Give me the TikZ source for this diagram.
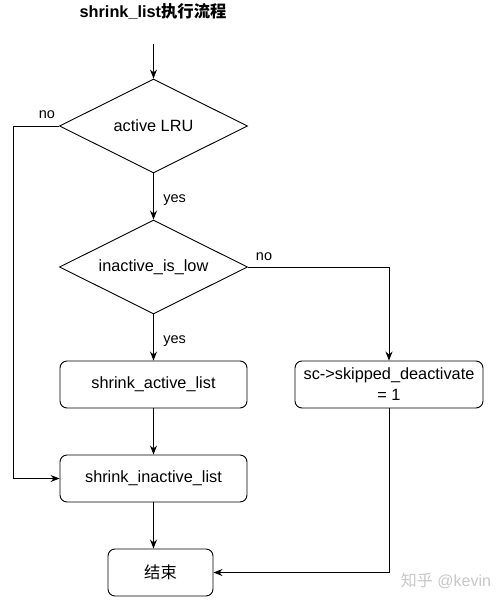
\documentclass[tikz,border=0pt]{standalone}
\usepackage{fontspec}
\setmainfont{Liberation Sans}
\newfontfamily\cjk{Noto Sans CJK SC}
\usetikzlibrary{shapes.geometric,arrows.meta}
\begin{document}
\begin{tikzpicture}[x=1pt,y=-1pt,
  every node/.style={font=\fontsize{16.3}{19}\selectfont},
  dec/.style={draw,diamond,aspect=2,inner sep=0pt,minimum width=188pt,minimum height=94pt,line width=0.9pt},
  proc/.style={draw,rounded corners=7pt,minimum height=47pt,inner sep=2pt,align=center,line width=0.9pt},
  lbl/.style={font=\fontsize{14.5}{17}\selectfont},
  flow/.style={line width=0.9pt,-{Stealth[length=9pt,width=7pt]}}]
\useasboundingbox (0,0) rectangle (500,600);
\node (title) at (153,11) {\bfseries shrink\_list{\cjk\bfseries 执行流程}};
\coordinate (start) at (153.5,44);
\node[dec] (d1) at (153.5,126) {active LRU};
\node[dec] (d2) at (153.5,267) {inactive\_is\_low};
\node[proc,minimum width=187pt] (a) at (153.5,384.5) {shrink\_active\_list};
\node[proc,minimum width=188pt,font=\fontsize{16.3}{21}\selectfont] (s) at (389,384.5) {sc->skipped\_deactivate\\= 1};
\node[proc,minimum width=187pt] (i) at (153.5,478.5) {shrink\_inactive\_list};
\node[proc,minimum width=105pt] (e) at (160.5,572.5) {\cjk 结束};
\coordinate (nl) at (13,126);
\draw[flow] (start) -- (d1.north);
\draw[flow] (d1.south) -- node[lbl,right,xshift=6pt,yshift=-4pt,pos=0.5] {yes} (d2.north);
\draw[flow] (d2.south) -- node[lbl,right,xshift=6pt,yshift=-4pt,pos=0.5] {yes} (a.north);
\draw[flow] (a.south) -- (i.north);
\draw[flow] (i.south) -- (i.south |- e.north);
\draw[flow] (d1.west) -- (nl) |- (i.west);
\draw[flow] (d2.east) -| (s.north);
\draw[flow] (s.south) |- (e.east);
\node[lbl] (no1) at (47,115) {no};
\node[lbl] (no2) at (264,257) {no};
\node[text=black!22,font=\fontsize{16}{19}\selectfont] (wm) at (446,581) {{\cjk 知乎} @kevin};
\end{tikzpicture}
\end{document}
